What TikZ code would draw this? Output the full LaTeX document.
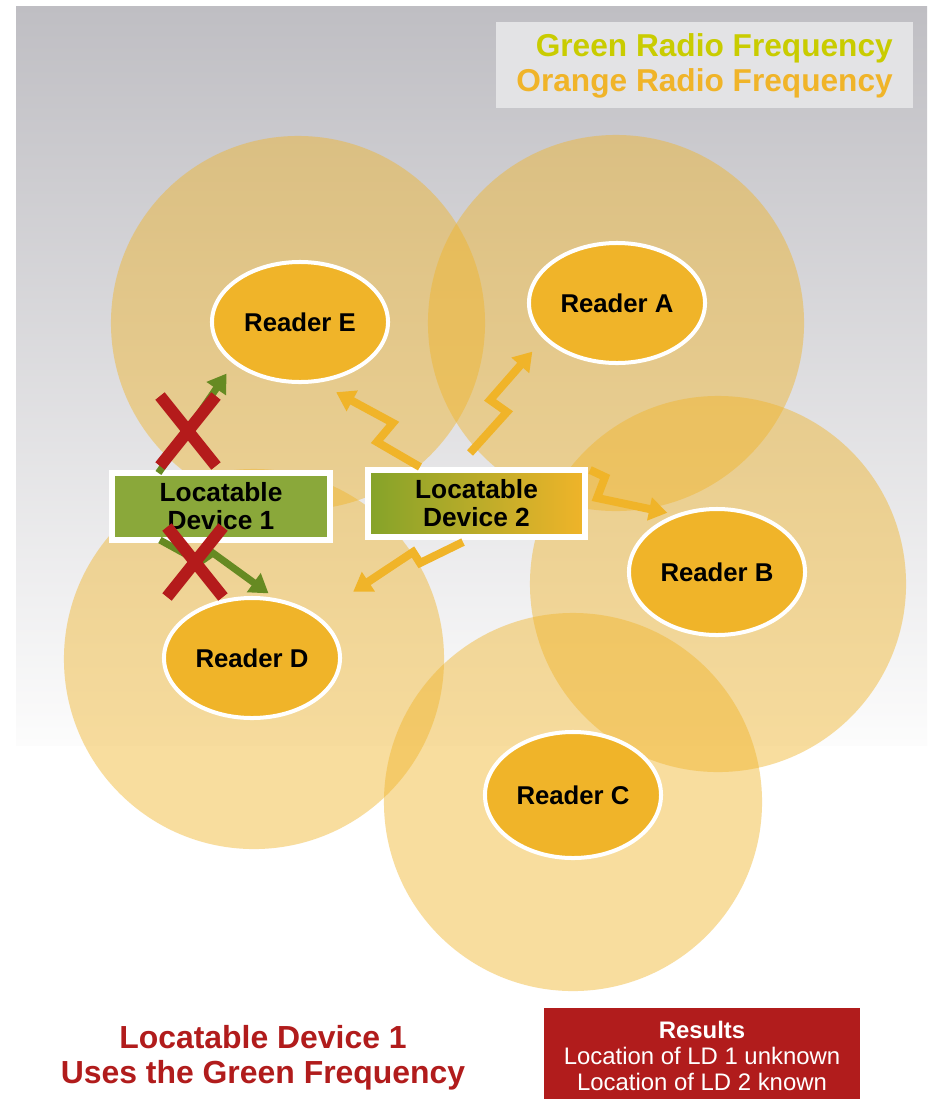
\documentclass[tikz,border=0pt]{standalone}
\usepackage{fontspec}
\setmainfont{Liberation Sans}
\usetikzlibrary{shapes,positioning,arrows.meta}
\usetikzlibrary{shapes.misc,calc}

\definecolor{rforange}{HTML}{F0B429}
\definecolor{rfgreen}{HTML}{668A22}
\definecolor{ldgreen}{HTML}{8AA83A}
\definecolor{ldgreenb}{HTML}{84A329}
\definecolor{xred}{HTML}{B41B1B}
\definecolor{capred}{HTML}{B11C1C}
\definecolor{legtext}{HTML}{C9CC00}
\definecolor{legfill}{HTML}{E3E3E5}
\definecolor{bgtop}{HTML}{BFBEC3}
\definecolor{bgbot}{HTML}{FCFCFC}

\begin{document}
\begin{tikzpicture}[x=0.025cm,y=-0.025cm,>={Triangle[length=13pt,width=16pt]},
    reader/.style={ellipse,fill=rforange,draw=white,line width=2.85pt,minimum width=4.4cm,minimum height=3cm,inner sep=0pt,font=\fontsize{18.3}{22}\selectfont\bfseries},
    ldbox/.style={rectangle,draw=white,line width=4.3pt,minimum width=5.425cm,minimum height=1.675cm,inner sep=0pt,align=center,font=\fontsize{18.7}{19.9}\selectfont\bfseries},
    ofreq/.style={->,draw=rforange,line width=5.7pt},
    gfreq/.style={->,draw=rfgreen,line width=5pt},
    nogo/.style={cross out,draw=xred,line width=8.5pt,minimum width=1.1cm,minimum height=1.45cm,inner sep=0pt},
    cell/.style={fill=rforange,fill opacity=0.45}]

    \useasboundingbox (0,0) rectangle (932,1099);
    \fill[white] (0,0) rectangle (932,1099);
    \shade[top color=bgtop,bottom color=bgbot] (16,6) rectangle (927,745);

    % reader ranges
    \fill[cell] (298,323) circle[radius=4.675cm];
    \fill[cell] (616,323) circle[radius=4.7cm];
    \fill[cell] (718,584) circle[radius=4.7cm];
    \fill[cell] (254,659) circle[radius=4.75cm];
    \fill[cell] (573,802) circle[radius=4.725cm];

    \node[fill=legfill, minimum width=10.425cm, minimum height=2.15cm] (legend) at (704.5,65) {};
    \node[anchor=east, align=right, inner sep=0pt, font=\fontsize{22.5}{24.9}\selectfont\bfseries] (legtxt) at (893,65.5)
        {\textcolor{legtext}{Green Radio Frequency}\\\textcolor{rforange}{Orange Radio Frequency}};

    \node[reader] (E) at (300,322) {Reader E};
    \node[reader] (A) at (617,303) {Reader A};
    \node[reader, minimum height=3.15cm] (B) at (717,572) {Reader B};
    \node[reader] (D) at (252,658) {Reader D};
    \node[reader, minimum height=3.15cm] (C) at (573,795) {Reader C};

    \node[ldbox, fill=ldgreen] (ld1) at (221,506.5) {Locatable\\Device 1};
    \node[ldbox, left color=ldgreenb, right color=rforange] (ld2) at (476.5,503.5) {Locatable\\Device 2};

    %\path (ld1) edge (E);
    \draw[gfreq, shorten >=0.3cm] (ld1.north west) ++(49,3) -- (E.-148);
    \draw[gfreq, shorten >=0.2cm] (ld1.south west) ++(50.5,-3) -- ++(40,22) -- ++(13,-9) -- (D.69);

    \draw[ofreq, shorten >=0.5cm] (ld2.north west) ++(55,0) -- ++(-43,-25) -- ++(16,-19) -- (E.-73);
    \draw[ofreq, shorten >=0.425cm] (ld2.north) ++(-6.5,-14) -- ++(37,-41) -- ++(-17,-12) -- (A.-154);
    \draw[ofreq, shorten >=0.2cm] (ld2.north east) ++(2,3) -- ++(15,7) -- ++(-8,21) -- (B.126);
    \draw[ofreq, shorten >=1.07cm] (ld2.south) ++(-13.5,2) -- ++(-43,21) -- ++(-7,-11) -- (D.33);

    \node[nogo] (x1) at (188,431) {};
    \node[nogo] (x2) at (195,562) {};

    \node[align=center, text=capred, font=\fontsize{22.7}{24.9}\selectfont\bfseries] (cap) at (263,1057.5)
        {Locatable Device 1\\Uses the Green Frequency};
    \node[fill=capred, text=white, align=center, minimum width=7.9cm, minimum height=2.4cm, font=\fontsize{17}{18.5}\selectfont] (res) at (702,1056)
        {\textbf{Results}\\Location of LD 1 unknown\\Location of LD 2 known};
\end{tikzpicture}
\end{document}
